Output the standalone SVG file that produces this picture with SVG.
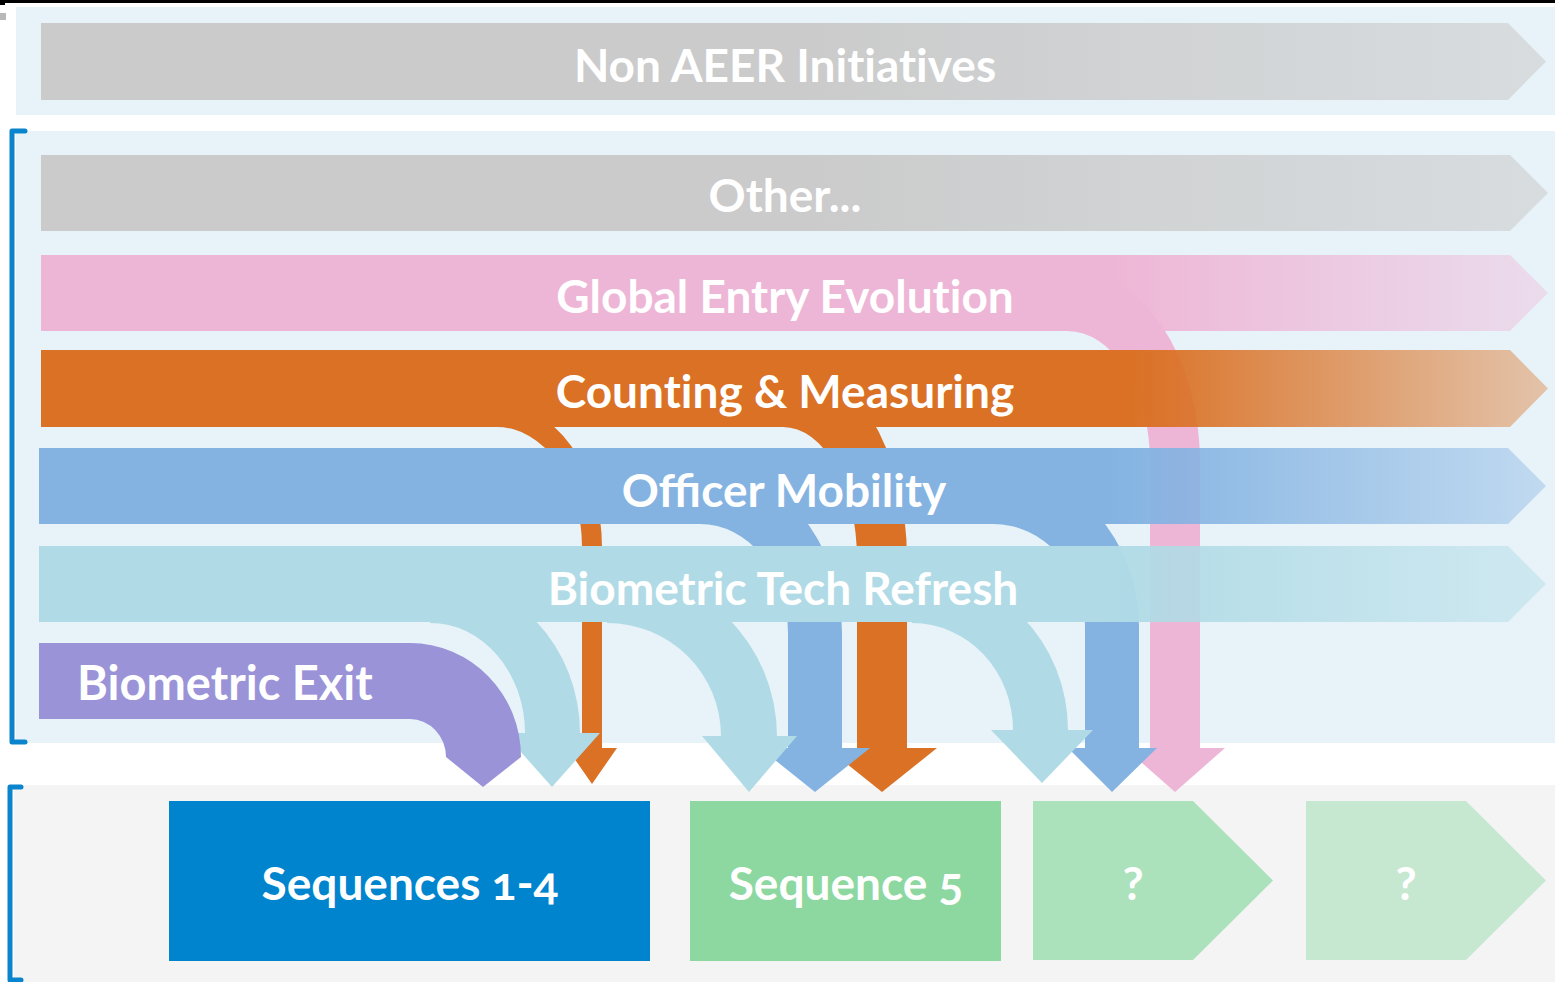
<svg xmlns="http://www.w3.org/2000/svg" width="1555" height="982" viewBox="0 0 1555 982">
<defs>
<style>
.lbl{font-family:Lato,"Open Sans","Liberation Sans",sans-serif;font-weight:700;fill:#ffffff;font-variant-ligatures:none;font-feature-settings:"liga" 0,"clig" 0,"calt" 0,"dlig" 0;}
.lig{font-variant-ligatures:common-ligatures;font-feature-settings:"liga" 1;}
.c{text-anchor:middle;}
.bracket{fill:none;stroke:#0A84CC;stroke-width:5;stroke-linecap:round;stroke-linejoin:round;}
</style>
<linearGradient id="gGray" gradientUnits="userSpaceOnUse" x1="41" y1="0" x2="1548" y2="0">
<stop offset="0" stop-color="#CBCBCB" stop-opacity="1"/><stop offset="0.51" stop-color="#CBCBCB" stop-opacity="1"/><stop offset="1" stop-color="#CBCBCB" stop-opacity="0.57"/>
</linearGradient>
<linearGradient id="gPink" gradientUnits="userSpaceOnUse" x1="41" y1="0" x2="1548" y2="0">
<stop offset="0" stop-color="#EEB6D6"/><stop offset="0.71" stop-color="#EEB6D6" stop-opacity="1"/><stop offset="1" stop-color="#EEB6D6" stop-opacity="0.38"/>
</linearGradient>
<linearGradient id="gOrange" gradientUnits="userSpaceOnUse" x1="41" y1="0" x2="1548" y2="0">
<stop offset="0" stop-color="#DA7124"/><stop offset="0.72" stop-color="#DA7124" stop-opacity="1"/><stop offset="1" stop-color="#DA7124" stop-opacity="0.37"/>
</linearGradient>
<linearGradient id="gBlue" gradientUnits="userSpaceOnUse" x1="39" y1="0" x2="1546" y2="0">
<stop offset="0" stop-color="#84B3E2"/><stop offset="0.71" stop-color="#84B3E2" stop-opacity="1"/><stop offset="1" stop-color="#84B3E2" stop-opacity="0.4"/>
</linearGradient>
<linearGradient id="gTeal" gradientUnits="userSpaceOnUse" x1="39" y1="0" x2="1546" y2="0">
<stop offset="0" stop-color="#B0DBE6"/><stop offset="0.7" stop-color="#B0DBE6" stop-opacity="1"/><stop offset="1" stop-color="#B0DBE6" stop-opacity="0.45"/>
</linearGradient>
</defs>

<!-- artifacts at top -->
<rect x="0" y="0" width="1555" height="3" fill="#000"/>
<rect x="0" y="0" width="5" height="5" fill="#000"/>
<rect x="0" y="13" width="6" height="7" fill="#9a9a9a" opacity="0.7"/>

<!-- panels -->
<g id="panels">
<rect x="16" y="7" width="1539" height="108" fill="#E8F3F9"/>
<rect x="16" y="131" width="1539" height="612" fill="#E8F3F9"/>
<rect x="14" y="785" width="1541" height="197" fill="#F4F4F4"/>
</g>

<!-- connectors: curved arrows from initiatives to sequences -->
<g id="connectors">
<path id="arrow-global" fill="#EEB6D6" d="M1067,331 A83 131 0 0 1 1150,462 V748 H1125 L1175,792 L1225,748 H1200 V462 A133 194 0 0 0 1067,268 Z"/>
<path id="arrow-count-1" fill="#DA7124" d="M497,427 A85 120 0 0 1 582,547 V748 H567 L592,784 L617,748 H602 V547 A105 143 0 0 0 497,404 Z"/>
<path id="arrow-count-2" fill="#DA7124" d="M783,427 A74 132 0 0 1 857,559 V748 H827 L882,792 L937,748 H907 V559 A124 200 0 0 0 783,359 Z"/>
<path id="arrow-officer-1" fill="#84B3E2" d="M700,524 A88 109 0 0 1 788,633 V748 H760 L815,792 L870,748 H842 V633 A142 168 0 0 0 700,465 Z"/>
<path id="arrow-officer-2" fill="#84B3E2" d="M993,524 A92 102 0 0 1 1085,626 V748 H1068 L1112,792 L1157,748 H1139 V626 A146 159 0 0 0 993,467 Z"/>
<path id="arrow-btr-1" fill="#B0DBE6" d="M430,623 A95 110 0 0 1 525,733 H504 L552,787 L600,733 H580 A150 158 0 0 0 430,575 Z"/>
<path id="arrow-btr-2" fill="#B0DBE6" d="M607,623 A114 113 0 0 1 721,736 H702 L749,792 L797,736 H777 A170 168 0 0 0 607,568 Z"/>
<path id="arrow-btr-3" fill="#B0DBE6" d="M912,623 A101 107 0 0 1 1013,730 H991 L1042,783 L1093,730 H1068 A156 160 0 0 0 912,570 Z"/>
</g>

<!-- initiative bands -->
<g id="non-aeer">
<path fill="url(#gGray)" d="M41,23 H1508 L1546,61.5 L1508,100 H41 Z"/>
<text class="lbl c" x="785" y="82" font-size="46">Non AEER Initiatives</text>
</g>
<g id="other">
<path fill="url(#gGray)" d="M41,155 H1510 L1548,193 L1510,231 H41 Z"/>
<text class="lbl c" x="785" y="212" font-size="46">Other...</text>
</g>
<g id="global-entry">
<path fill="url(#gPink)" d="M41,255 H1510 L1548,293 L1510,331 H41 Z"/>
<text class="lbl c" x="785" y="313" font-size="46">Global Entry Evolution</text>
</g>
<g id="counting">
<path fill="url(#gOrange)" d="M41,350 H1510 L1548,388.5 L1510,427 H41 Z"/>
<text class="lbl c" x="785" y="408" font-size="46">Counting &amp; Measuring</text>
</g>
<g id="officer">
<path fill="url(#gBlue)" d="M39,448 H1508 L1546,486 L1508,524 H39 Z"/>
<text class="lbl lig c" x="784" y="507" font-size="46">Officer Mobility</text>
</g>
<g id="btr">
<path fill="url(#gTeal)" d="M39,546 H1508 L1546,584 L1508,622 H39 Z"/>
<text class="lbl c" x="783" y="605" font-size="46">Biometric Tech Refresh</text>
</g>
<g id="biometric-exit">
<path fill="#9A93D8" d="M39,643 H410 A111 114 0 0 1 521,757 L483,787 L446,757 A36 38 0 0 0 410,719 H39 Z"/>
<text class="lbl" x="77" y="700" font-size="47">Biometric Exit</text>
</g>

<!-- sequences -->
<g id="seq-1-4">
<rect x="169" y="801" width="481" height="160" fill="#0084CE"/>
<text class="lbl c" x="410" y="900" font-size="46" style="font-variant-numeric:oldstyle-nums">Sequences 1-4</text>
</g>
<g id="seq-5">
<rect x="690" y="801" width="311" height="160" fill="#8CD8A0"/>
<text class="lbl c" x="846" y="900" font-size="46" style="font-variant-numeric:oldstyle-nums">Sequence 5</text>
</g>
<g id="seq-next-1">
<path fill="#ABE1BB" d="M1033,801 H1193 L1273,880.5 L1193,960 H1033 Z"/>
<text class="lbl c" x="1133" y="900" font-size="46">?</text>
</g>
<g id="seq-next-2">
<path fill="#C6E8D1" d="M1306,801 H1466 L1546,880.5 L1466,960 H1306 Z"/>
<text class="lbl c" x="1406" y="900" font-size="46">?</text>
</g>

<!-- brackets -->
<g id="brackets">
<path class="bracket" d="M25,131 H12 V742 H25"/>
<path class="bracket" d="M21,787 H10 V980 H21"/>
</g>
</svg>
